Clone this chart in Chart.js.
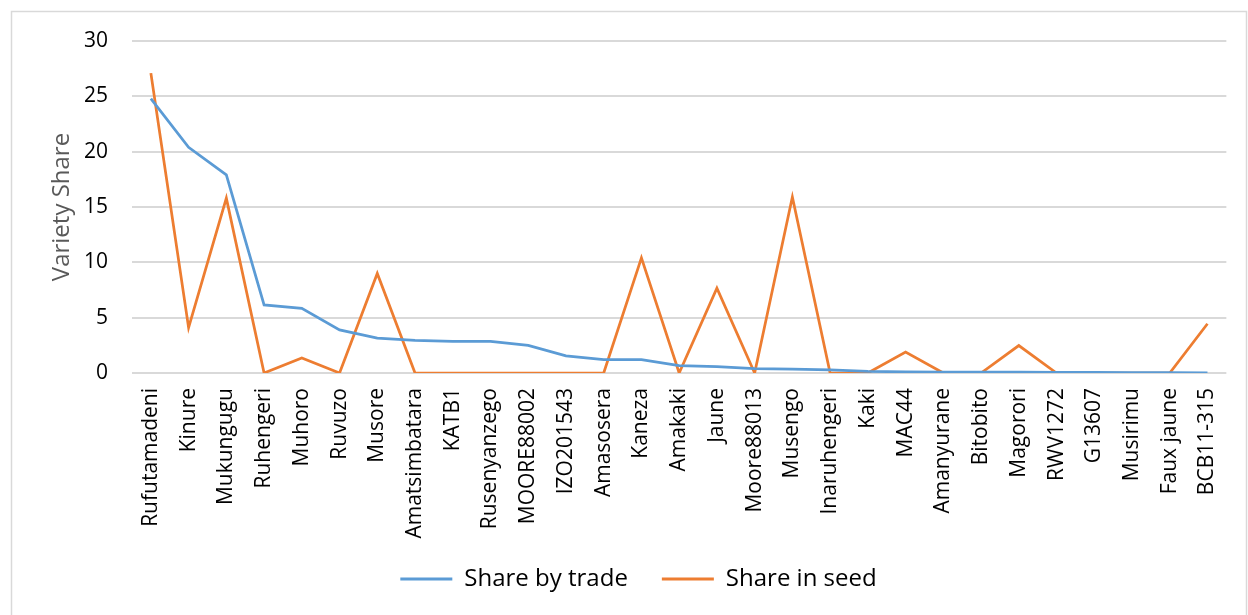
<!DOCTYPE html>
<html>
<head>
<meta charset="utf-8">
<script src="https://cdn.jsdelivr.net/npm/chart.js@4.4.1/dist/chart.umd.min.js"></script>
<style>
    html, body { margin: 0; padding: 0; background: #fff; }
    #wrap { width: 1248px; height: 615px; position: relative; }
</style>
</head>
<body>
<div id="wrap"><canvas id="shareChart" width="1248" height="615"></canvas></div>
<script>
    // Varieties (x axis)
    const varieties = ['Rufutamadeni', 'Kinure', 'Mukungugu', 'Ruhengeri', 'Muhoro', 'Ruvuzo', 'Musore',
        'Amatsimbatara', 'KATB1', 'Rusenyanzego', 'MOORE88002', 'IZO201543', 'Amasosera', 'Kaneza',
        'Amakaki', 'Jaune', 'Moore88013', 'Musengo', 'Inaruhengeri', 'Kaki', 'MAC44', 'Amanyurane',
        'Bitobito', 'Magorori', 'RWV1272', 'G13607', 'Musirimu', 'Faux jaune', 'BCB11-315'];

    // Share by trade
    const shareTrade = [24.8, 20.4, 17.9, 6.15, 5.85, 3.9, 3.15, 2.95, 2.85, 2.85, 2.5, 1.55, 1.2, 1.2,
        0.67, 0.58, 0.4, 0.35, 0.28, 0.15, 0.1, 0.08, 0.07, 0.07, 0.06, 0.05, 0.04, 0.03, 0.02];

    // Share in seed
    const shareSeed = [27.1, 4.1, 15.8, 0, 1.36, 0, 9.0, 0, 0, 0, 0, 0, 0, 10.4,
        0, 7.67, 0, 15.9, 0, 0, 1.9, 0, 0, 2.48, 0, 0, 0, 0, 4.45];

    const yTicks = [0, 5, 10, 15, 20, 25, 30];

    const FONT = "'Open Sans', 'DejaVu Sans', sans-serif";

    // white background + thin frame like the office chart
    const frame = {
        id: 'frame',
        beforeDraw(chart) {
            const ctx = chart.ctx;
            ctx.save();
            ctx.fillStyle = '#fff';
            ctx.fillRect(0, 0, chart.width, chart.height);
            ctx.strokeStyle = '#d9d9d9';
            ctx.lineWidth = 1.5;
            ctx.strokeRect(11.5, 11.5, 1235, 620);
            ctx.restore();
        }
    };

    // long rotated labels run into the legend area, so don't clip them
    const noLabelClip = {
        id: 'noLabelClip',
        afterLayout(chart) {
            chart.scales.x.bottom = chart.height;
        }
    };

    const ctx = document.getElementById('shareChart').getContext('2d');

    new Chart(ctx, {
        type: 'line',
        data: {
            labels: varieties,
            datasets: [{
                label: 'Share by trade',
                data: shareTrade,
                borderColor: '#5b9bd5',
                backgroundColor: '#5b9bd5',
                borderWidth: 2.75,
                pointRadius: 0,
                tension: 0
            }, {
                label: 'Share in seed',
                data: shareSeed,
                borderColor: '#ed7d31',
                backgroundColor: '#ed7d31',
                borderWidth: 2.75,
                pointRadius: 0,
                tension: 0
            }]
        },
        options: {
            responsive: false,
            animation: false,
            layout: {
                padding: { top: 41, left: 48, right: 19, bottom: 14 }
            },
            plugins: {
                tooltip: { enabled: false },
                legend: {
                    position: 'bottom',
                    labels: {
                        color: '#000',
                        font: { family: FONT, size: 24 },
                        boxWidth: 52,
                        boxHeight: 3,
                        padding: 34,
                        generateLabels(chart) {
                            const items = Chart.defaults.plugins.legend.labels.generateLabels(chart);
                            items.forEach(it => {
                                it.lineWidth = 0;
                                it.fillStyle = it.strokeStyle;
                            });
                            return items;
                        }
                    }
                }
            },
            scales: {
                x: {
                    offset: true,
                    grid: { display: false, drawTicks: false },
                    border: { display: false },
                    ticks: {
                        color: '#000',
                        font: { family: FONT, size: 21 },
                        minRotation: 90,
                        maxRotation: 90,
                        autoSkip: false,
                        padding: 15
                    },
                    afterFit(scale) {
                        scale.height = 160;
                    }
                },
                y: {
                    min: 0,
                    max: 30,
                    afterBuildTicks(scale) {
                        scale.ticks = yTicks.map(v => ({ value: v }));
                    },
                    grid: { color: '#d9d9d9', lineWidth: 2, drawTicks: false },
                    border: { display: false },
                    ticks: {
                        color: '#000',
                        font: { family: FONT, size: 21 },
                        padding: 24
                    },
                    title: {
                        display: true,
                        text: 'Variety Share',
                        color: '#595959',
                        font: { family: FONT, size: 24 },
                        padding: 0
                    },
                    afterFit(scale) {
                        scale.width = 84;
                    }
                }
            }
        },
        plugins: [frame, noLabelClip]
    });
</script>
</body>
</html>
